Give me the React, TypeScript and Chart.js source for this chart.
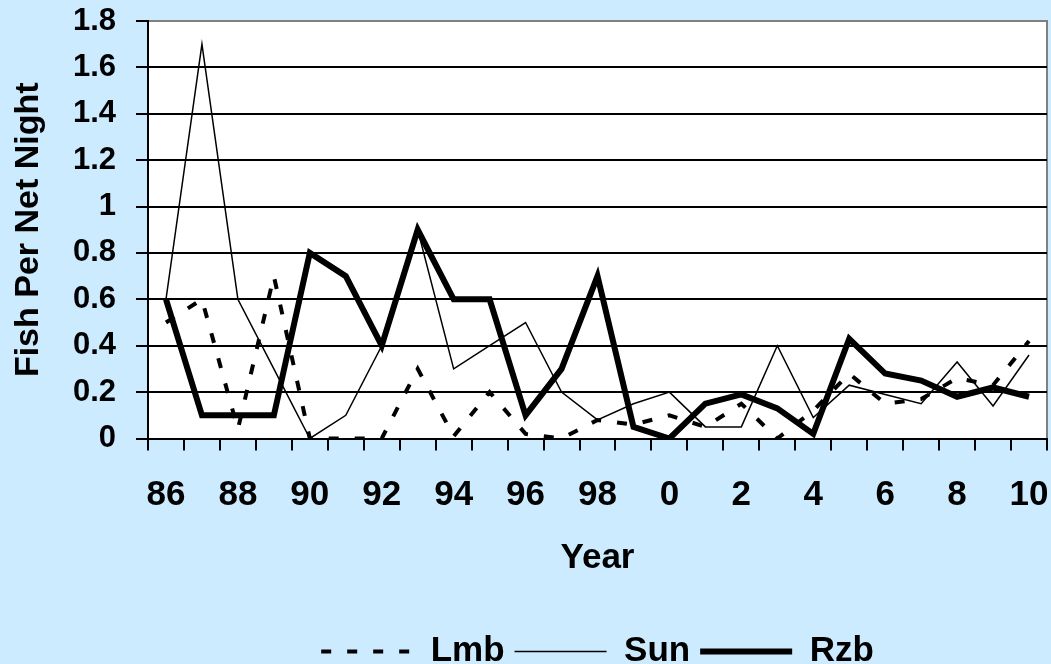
import { useEffect, useRef } from 'react';
import { Chart, registerables } from 'chart.js';

Chart.register(...registerables);

const years = ['86', '87', '88', '89', '90', '91', '92', '93', '94', '95', '96', '97', '98', '99', '0', '1', '2', '3', '4', '5', '6', '7', '8', '9', '10'];
const lmb = [0.5, 0.6, 0.04, 0.7, 0, 0, 0, 0.3, 0.01, 0.2, 0.02, 0, 0.08, 0.06, 0.1, 0.05, 0.15, 0, 0.12, 0.28, 0.15, 0.17, 0.26, 0.23, 0.42];
const sun = [0.6, 1.7, 0.6, 0.3, 0, 0.1, 0.4, 0.9, 0.3, 0.4, 0.5, 0.2, 0.08, 0.15, 0.2, 0.05, 0.05, 0.4, 0.09, 0.23, 0.19, 0.15, 0.33, 0.14, 0.36];
const rzb = [0.6, 0.1, 0.1, 0.1, 0.8, 0.7, 0.4, 0.9, 0.6, 0.6, 0.1, 0.3, 0.7, 0.05, 0, 0.15, 0.19, 0.13, 0.02, 0.43, 0.28, 0.25, 0.18, 0.22, 0.18];
const seriesNames = ['Lmb', 'Sun', 'Rzb'];
const yMin = 0;
const yMax = 1.8;
const yStep = 0.2;

const BG = '#CCEBFF';
const FONT = '"Liberation Sans", Arial, sans-serif';

const bgPlugin = {
  id: 'bgPlugin',
  beforeDraw(chart: any) {
    const { ctx, chartArea: a, width, height } = chart;
    ctx.save();
    ctx.fillStyle = BG;
    ctx.fillRect(0, 0, width, height);
    ctx.fillStyle = '#ffffff';
    ctx.fillRect(a.left, a.top, a.right - a.left, a.bottom - a.top);
    ctx.strokeStyle = '#808080';
    ctx.lineWidth = 2;
    ctx.beginPath();
    ctx.moveTo(a.left, a.top);
    ctx.lineTo(a.right, a.top);
    ctx.lineTo(a.right, a.bottom);
    ctx.stroke();
    ctx.restore();
  },
};

export default function App() {
  const ref = useRef<HTMLCanvasElement | null>(null);

  useEffect(() => {
    if (!ref.current) return;
    const chart = new Chart(ref.current, {
      type: 'line',
      data: {
        labels: years,
        datasets: [
          {
            label: seriesNames[0],
            data: lmb,
            borderColor: '#000',
            backgroundColor: '#000',
            borderWidth: 4,
            borderDash: [10, 16],
            pointRadius: 0,
            tension: 0,
            fill: false,
            borderJoinStyle: 'miter',
          },
          {
            label: seriesNames[1],
            data: sun,
            borderColor: '#000',
            backgroundColor: '#000',
            borderWidth: 1.5,
            pointRadius: 0,
            tension: 0,
            fill: false,
            borderJoinStyle: 'miter',
          },
          {
            label: seriesNames[2],
            data: rzb,
            borderColor: '#000',
            backgroundColor: '#000',
            borderWidth: 6,
            pointRadius: 0,
            tension: 0,
            fill: false,
            borderJoinStyle: 'miter',
          },
        ],
      },
      options: {
        responsive: false,
        animation: false,
        layout: { padding: { left: 0, right: 4, top: 21, bottom: 1 } },
        plugins: {
          legend: {
            position: 'bottom',
            fullSize: false,
            labels: {
              usePointStyle: true,
              pointStyle: 'line',
              pointStyleWidth: 92,
              padding: 10,
              color: '#000',
              font: { family: FONT, size: 35, weight: 'bold' },
              generateLabels: (chart: any) => {
                const items = Chart.defaults.plugins.legend.labels.generateLabels(chart);
                return items.map((it: any) => {
                  const ds: any = chart.data.datasets[it.datasetIndex];
                  return {
                    ...it,
                    lineWidth: ds.borderWidth,
                    lineDash: ds.borderDash || [],
                    strokeStyle: '#000',
                    fillStyle: '#000',
                    pointStyle: 'line',
                  };
                });
              },
            },
          },
          tooltip: { enabled: false },
        },
        scales: {
          x: {
            offset: true,
            grid: {
              offset: true,
              drawOnChartArea: false,
              drawTicks: true,
              tickLength: 12,
              color: '#000',
              lineWidth: 2,
            },
            border: { display: true, color: '#000', width: 2 },
            ticks: {
              autoSkip: false,
              maxRotation: 0,
              padding: 24,
              color: '#000',
              font: { family: FONT, size: 35, weight: 'bold' },
              callback: (_v: any, i: number) => (i % 2 === 0 ? years[i] : ''),
            },
            title: {
              display: true,
              text: 'Year',
              color: '#000',
              font: { family: FONT, size: 35, weight: 'bold' },
              padding: { top: 0, bottom: 45 },
            },
            afterFit: (s: any) => {
              s.height = 185.5;
              s.paddingLeft = 0;
              s.paddingRight = 0;
            },
          },
          y: {
            min: yMin,
            max: yMax,
            ticks: {
              stepSize: yStep,
              padding: 20,
              color: '#000',
              font: { family: FONT, size: 31, weight: 'bold' },
              callback: (v: any) => String(Number(Number(v).toFixed(1))),
            },
            grid: {
              color: (c: any) => (c.tick && c.tick.value >= yMax - 0.001 ? '#808080' : '#000'),
              tickColor: '#000',
              lineWidth: 2,
              tickLength: 12,
            },
            border: { display: true, color: '#000', width: 2 },
            title: {
              display: true,
              text: 'Fish Per Net Night',
              color: '#000',
              font: { family: FONT, size: 34, weight: 'bold' },
              padding: { top: 8, bottom: 0 },
            },
            afterFit: (s: any) => {
              s.width = 148;
              s.paddingTop = 0;
              s.paddingBottom = 0;
            },
          },
        },
      },
      plugins: [bgPlugin],
    });
    return () => chart.destroy();
  }, []);

  return (
    <div
      style={{
        position: 'fixed',
        left: 0,
        top: 0,
        width: 1051,
        height: 664,
        overflow: 'hidden',
        background: BG,
      }}
    >
      <canvas ref={ref} width={1051} height={680} style={{ display: 'block' }} />
    </div>
  );
}
